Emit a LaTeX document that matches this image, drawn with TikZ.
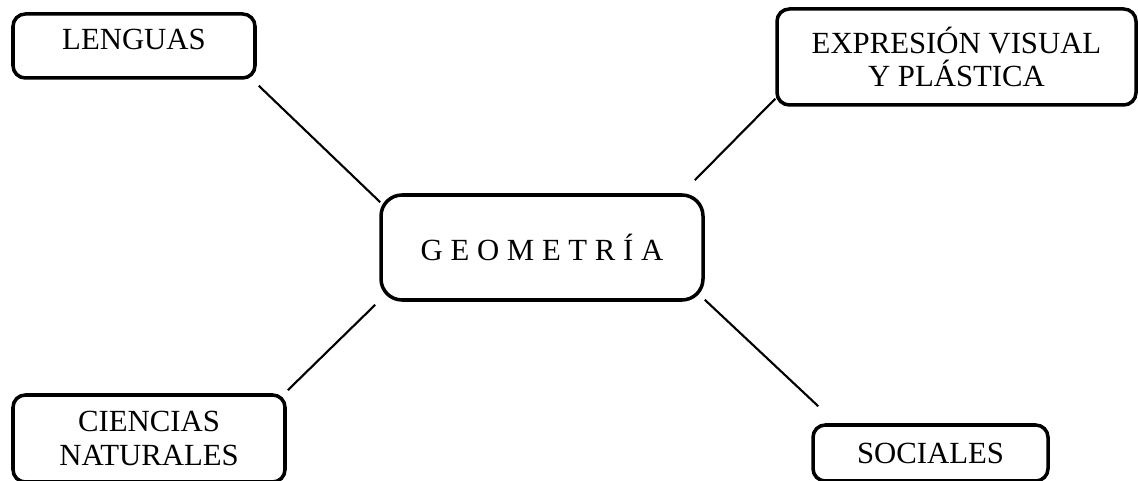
\documentclass[tikz,border=0pt]{standalone}
\usepackage{fontspec}
\setmainfont{Liberation Serif}
\begin{document}
\begin{tikzpicture}[
        area/.style={draw, line width=2pt, rounded corners=7pt, align=center, inner sep=0pt,
            font=\fontsize{17.5}{19}\selectfont},
        tema/.style={area, rounded corners=12pt},
        enlace/.style={line width=1.2pt}]
        \useasboundingbox (0,0) rectangle (22.76,9.62);

        % Tema central
        \node[tema, minimum width=6.44cm, minimum height=2.10cm] (geo) at (10.84, 4.67) {G E O M E T R Í A};

        % Areas
        \node[area, minimum width=4.84cm, minimum height=1.28cm] (lenguas) at (2.68, 8.70) {\raisebox{8pt}{LENGUAS}};
        \node[area, minimum width=7.18cm, minimum height=1.92cm] (expresion) at (19.13, 8.48) {EXPRESIÓN VISUAL\\Y PLÁSTICA};
        \node[area, minimum width=5.44cm, minimum height=1.74cm] (ciencias) at (2.98, 0.85) {CIENCIAS\\NATURALES};
        \node[area, minimum width=4.70cm, minimum height=1.12cm] (sociales) at (18.61, 0.56) {SOCIALES};

        % Enlaces
        \draw[enlace] ([shift={(0.04,-0.12)}]lenguas.south east) -- ([shift={(0.02,-0.18)}]geo.north west);
        \draw[enlace] ([shift={(0,0.16)}]expresion.south west) -- ([shift={(-0.20,0.26)}]geo.north east);
        \draw[enlace] ([shift={(-0.08,-0.06)}]geo.south west) -- ([shift={(0.02,0.06)}]ciencias.north east);
        \draw[enlace] ([shift={(0,0.04)}]geo.south east) -- ([shift={(0.14,0.34)}]sociales.north west);
    \end{tikzpicture}
\end{document}
